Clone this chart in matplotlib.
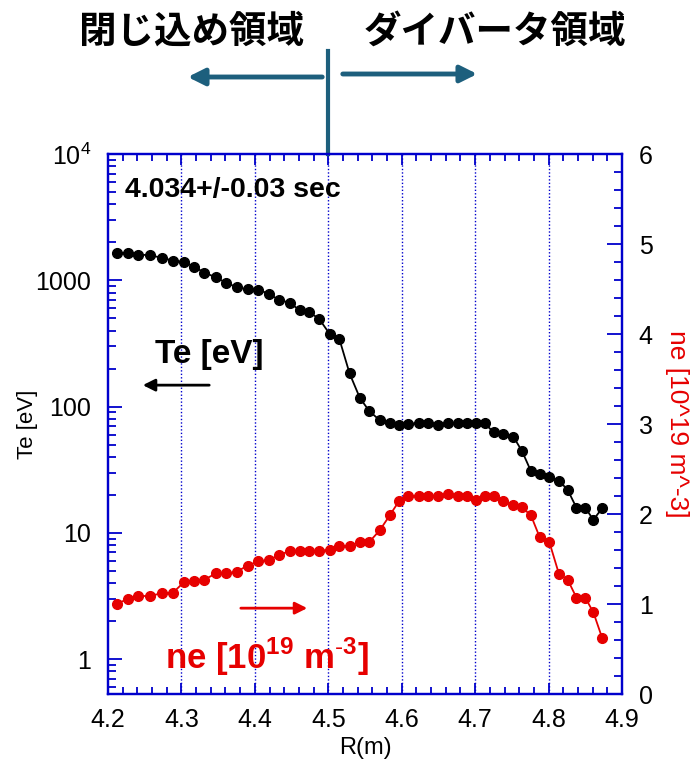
import matplotlib
matplotlib.use("Agg")
import matplotlib.pyplot as plt
from matplotlib.ticker import FixedLocator, MultipleLocator, NullFormatter

plt.rcParams['font.family'] = ['Liberation Sans', 'Noto Sans CJK JP', 'DejaVu Sans']
plt.rcParams['mathtext.fontset'] = 'custom'
plt.rcParams['mathtext.rm'] = 'Liberation Sans'
plt.rcParams['mathtext.bf'] = 'Liberation Sans:bold'

# radius positions (m)
R = [4.212, 4.227, 4.241, 4.257, 4.274, 4.288, 4.303, 4.317, 4.331, 4.347,
     4.361, 4.375, 4.390, 4.404, 4.419, 4.433, 4.448, 4.461, 4.474, 4.488,
     4.502, 4.515, 4.529, 4.543, 4.556, 4.570, 4.584, 4.596, 4.609, 4.623,
     4.636, 4.650, 4.663, 4.676, 4.689, 4.701, 4.713, 4.725, 4.738, 4.752,
     4.764, 4.776, 4.788, 4.801, 4.814, 4.826, 4.838, 4.850, 4.861, 4.873]

# electron temperature (eV)
Te = [1650, 1650, 1600, 1580, 1505, 1434, 1398, 1285, 1151, 1056,
      955, 885, 848, 843, 784, 697, 665, 577, 563, 491,
      375, 344, 183, 117, 91.9, 78.1, 73.9, 71.5, 73.4, 73.7,
      73.7, 71.5, 73.7, 73.7, 73.7, 73.7, 73.7, 62.7, 60.8, 57.9,
      44.2, 30.8, 29.3, 27.6, 26.0, 21.9, 15.8, 15.8, 12.7, 15.7]

# electron density (10^19 m^-3)
ne = [1.003, 1.056, 1.089, 1.089, 1.122, 1.122, 1.240, 1.256, 1.270, 1.340,
      1.340, 1.359, 1.426, 1.473, 1.489, 1.544, 1.592, 1.592, 1.592, 1.592,
      1.603, 1.640, 1.644, 1.692, 1.692, 1.818, 1.989, 2.140, 2.203, 2.203,
      2.203, 2.203, 2.222, 2.203, 2.203, 2.151, 2.203, 2.203, 2.140, 2.103,
      2.073, 1.984, 1.740, 1.689, 1.337, 1.270, 1.070, 1.070, 0.907, 0.622]

x_ticks = [4.2, 4.3, 4.4, 4.5, 4.6, 4.7, 4.8, 4.9]
te_ticks = [1, 10, 100, 1000, 10000]
te_labels = ['1', '10', '100', '1000', '10$^4$']
ne_ticks = [0, 1, 2, 3, 4, 5, 6]

blue = '#0000cc'
teal = '#1d5f7d'
red = '#e60000'

fig = plt.figure(figsize=(7, 7.69), dpi=100)
ax = fig.add_axes([0.1543, 0.0975, 0.7343, 0.7022])
ax2 = ax.twinx()

ax.plot(R, Te, color='black', marker='o', markersize=7, lw=1.3, zorder=3)
ax2.plot(R, ne, color=red, marker='o', markersize=7, lw=1.3, zorder=3)

ax.set_xlim(4.2, 4.9)
ax.set_yscale('log')
ax.set_ylim(0.53, 1e4)
ax2.set_ylim(0, 6)

ax.xaxis.set_major_locator(FixedLocator(x_ticks))
ax.xaxis.set_minor_locator(MultipleLocator(0.02))
ax.set_xticklabels([f'{v:.1f}' for v in x_ticks])
ax.yaxis.set_major_locator(FixedLocator(te_ticks))
ax.set_yticklabels(te_labels)
ax.yaxis.set_minor_formatter(NullFormatter())
ax2.yaxis.set_major_locator(FixedLocator(ne_ticks))
ax2.yaxis.set_minor_locator(MultipleLocator(0.2))

for v in x_ticks[1:-1]:
    ax.axvline(v, color=blue, lw=1.0, ls=(0, (1, 1.5)), zorder=1)

for a in (ax, ax2):
    for s in a.spines.values():
        s.set_color(blue)
        s.set_linewidth(1.6)

ax.tick_params(axis='x', which='both', direction='in', top=True, color=blue,
               labelsize=18, pad=10)
ax.tick_params(axis='x', which='major', length=8, width=1.3)
ax.tick_params(axis='x', which='minor', length=5, width=1.3)
ax.tick_params(axis='y', which='both', direction='in', color=blue, labelsize=18, pad=12)
ax.tick_params(axis='y', which='major', length=10, width=1.3)
ax.tick_params(axis='y', which='minor', length=6, width=1.3)
ax2.tick_params(axis='y', which='both', direction='in', color=blue, labelsize=18, pad=12)
ax2.tick_params(axis='y', which='major', length=11, width=1.3)
ax2.tick_params(axis='y', which='minor', length=6, width=1.3)

ax.set_xlabel('R(m)', fontsize=17, labelpad=4)
ax.set_ylabel('Te [eV]', fontsize=16, labelpad=-2)
ax2.set_ylabel('ne [10^19 m^-3]', fontsize=19, color=red, rotation=-90, labelpad=26)

ax.text(0.033, 0.933, '4.034+/-0.03 sec', transform=ax.transAxes, fontsize=20.5,
        fontweight='bold', va='center', ha='left')
ax.text(0.0914, 0.628, 'Te [eV]', transform=ax.transAxes, fontsize=24,
        fontweight='bold', va='center', ha='left')
ax.annotate('', xy=(0.0623, 0.572), xytext=(0.2023, 0.572), xycoords='axes fraction',
            arrowprops=dict(arrowstyle='-|>', color='black', lw=2, mutation_scale=18))
ax.text(0.11, 0.068, r'ne [10$^{\mathbf{19}}$ m$^{\mathbf{\text{-}3}}$]', transform=ax.transAxes,
        fontsize=25, fontweight='bold', color=red, va='center', ha='left')
ax.annotate('', xy=(0.393, 0.159), xytext=(0.253, 0.159), xycoords='axes fraction',
            arrowprops=dict(arrowstyle='-|>', color=red, lw=2, mutation_scale=18))

# region boundary and labels above the plot
ax.plot([4.5, 4.5], [1.0, 1.19], transform=ax.get_xaxis_transform(), color=teal,
        lw=3, clip_on=False)
fig.text(191 / 700, 1 - 31 / 769, '閉じ込め領域', fontsize=27, fontweight='bold',
         ha='center', va='center', family=['Noto Sans CJK JP'])
fig.text(495 / 700, 1 - 31 / 769, 'ダイバータ領域', fontsize=27, fontweight='bold',
         ha='center', va='center', family=['Noto Sans CJK JP'])
ax.annotate('', xy=(185 / 700, 1 - 77 / 769), xytext=(325 / 700, 1 - 77 / 769),
            xycoords='figure fraction',
            arrowprops=dict(arrowstyle='-|>', color=teal, lw=3.5, mutation_scale=25))
ax.annotate('', xy=(480 / 700, 1 - 74 / 769), xytext=(340 / 700, 1 - 74 / 769),
            xycoords='figure fraction',
            arrowprops=dict(arrowstyle='-|>', color=teal, lw=3.5, mutation_scale=25))

fig.savefig('out.png', dpi=100)
